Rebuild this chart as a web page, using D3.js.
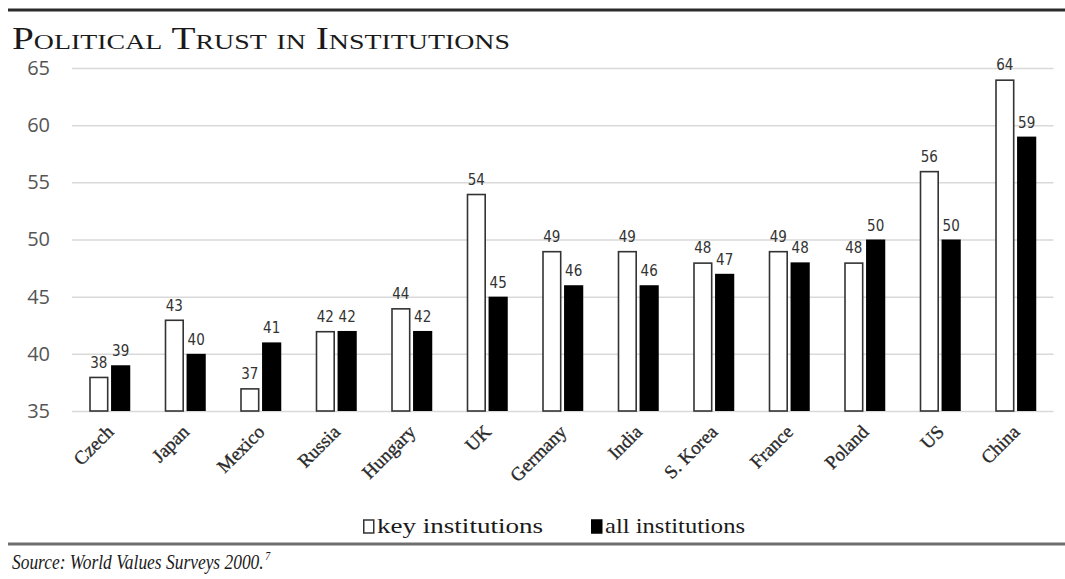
<!DOCTYPE html>
<html>
<head>
<meta charset="utf-8">
<script src="https://cdn.jsdelivr.net/npm/d3@7"></script>
<style>
  html, body { margin: 0; padding: 0; background: #fff; }
  svg { display: block; }
</style>
</head>
<body>
<svg id="chart" width="1065" height="579"></svg>
<script>
// Political trust in institutions, by country
const countries = ["Czech", "Japan", "Mexico", "Russia", "Hungary", "UK", "Germany", "India", "S. Korea", "France", "Poland", "US", "China"];
const keyInstitutions = [38, 43, 37, 42, 44, 54, 49, 49, 48, 49, 48, 56, 64];
const allInstitutions = [39, 40, 41, 42, 42, 45, 46, 46, 47, 48, 50, 50, 59];
const seriesNames = ["key institutions", "all institutions"];
const yTicks = [35, 40, 45, 50, 55, 60, 65];

const svg = d3.select("#chart");
const W = 1065;
const margin = { left: 72, right: 1053.5, top: 68, bottom: 411 };
const serif = "'Liberation Serif', 'DejaVu Serif', serif";

const rows = countries.map((c, i) => ({ country: c, values: [keyInstitutions[i], allInstitutions[i]] }));

const x = d3.scaleBand().domain(countries).range([margin.left, margin.right]).padding(0);
const x1 = d3.scaleBand().domain([0, 1]).range([-20.5, 20.5]).paddingInner(0.12);
const y = d3.scaleLinear().domain([35, 65]).range([margin.bottom, margin.top]);

// Top and bottom rules
svg.append("line").attr("x1", 8).attr("x2", W).attr("y1", 10).attr("y2", 10)
  .attr("stroke", "#2b2b2b").attr("stroke-width", 3);
svg.append("line").attr("x1", 8).attr("x2", W).attr("y1", 544).attr("y2", 544)
  .attr("stroke", "#6e6e6e").attr("stroke-width", 3);

// Title
svg.append("text")
  .attr("x", 12).attr("y", 49)
  .attr("textLength", 498).attr("lengthAdjust", "spacingAndGlyphs")
  .style("font-family", serif)
  .style("font-size", "31px")
  .style("font-variant", "small-caps")
  .attr("fill", "#1a1a1a")
  .text("Political Trust in Institutions");

// Gridlines and y axis labels
const yAxis = d3.axisLeft(y).tickValues(yTicks).tickSize(-(margin.right - margin.left)).tickPadding(22);
const gy = svg.append("g").attr("transform", `translate(${margin.left},0)`).call(yAxis);
gy.select(".domain").remove();
gy.selectAll(".tick line").attr("stroke", "#d9d9d9").attr("stroke-width", 1.5);
gy.selectAll(".tick text")
  .attr("fill", "#555")
  .style("font-family", "'Open Sans', 'Noto Sans', sans-serif")
  .style("font-size", "20px");

// Bars
const groups = svg.append("g").selectAll("g")
  .data(rows).join("g")
  .attr("transform", d => `translate(${x(d.country) + x.bandwidth() / 2},0)`);

groups.selectAll("rect")
  .data(d => d.values.map((v, k) => ({ v, k })))
  .join("rect")
  .attr("x", d => x1(d.k) + (d.k === 0 ? 0.75 : 0))
  .attr("width", d => x1.bandwidth() - (d.k === 0 ? 1.5 : 0))
  .attr("y", d => y(d.v) + (d.k === 0 ? 0.75 : 0))
  .attr("height", d => y(35) - y(d.v) - (d.k === 0 ? 0.75 : 0))
  .attr("fill", d => d.k === 0 ? "#fff" : "#000")
  .attr("stroke", d => d.k === 0 ? "#333" : "none")
  .attr("stroke-width", 1.6);

// Value labels
groups.selectAll("text.val")
  .data(d => d.values.map((v, k) => ({ v, k })))
  .join("text")
  .attr("class", "val")
  .attr("x", d => x1(d.k) + x1.bandwidth() / 2)
  .attr("y", d => y(d.v) - 9)
  .attr("text-anchor", "middle")
  .attr("fill", "#333")
  .style("font-family", "'DejaVu Sans Condensed', 'DejaVu Sans', sans-serif")
  .style("font-size", "15px")
  .text(d => d.v);

// Category labels
svg.append("g").selectAll("text")
  .data(countries).join("text")
  .attr("transform", d => `translate(${x(d) + x.bandwidth() / 2 + 5},${margin.bottom + 22}) rotate(-45)`)
  .attr("text-anchor", "end")
  .attr("fill", "#2a2a2a")
  .attr("stroke", "#2a2a2a").attr("stroke-width", 0.35)
  .style("font-family", serif)
  .style("font-size", "19px")
  .text(d => d);

// Legend
const legend = svg.append("g").attr("transform", "translate(363,533)");
const legendItems = [{ name: seriesNames[0], x: 0, w: 166 }, { name: seriesNames[1], x: 228, w: 140 }];
legendItems.forEach((it, k) => {
  legend.append("rect")
    .attr("x", it.x + 0.75).attr("y", -13).attr("width", 10).attr("height", 13)
    .attr("fill", k === 0 ? "#fff" : "#000")
    .attr("stroke", k === 0 ? "#333" : "#000").attr("stroke-width", 1.5);
  legend.append("text")
    .attr("x", it.x + 14).attr("y", 0)
    .attr("textLength", it.w).attr("lengthAdjust", "spacingAndGlyphs")
    .attr("fill", "#1a1a1a")
    .style("font-family", serif)
    .style("font-size", "22px")
    .text(it.name);
});

// Source note with footnote marker, set in a horizontally condensed italic
const src = svg.append("g").attr("transform", "translate(12,569) scale(0.83,1)")
  .append("text")
  .attr("x", 0).attr("y", 0)
  .attr("fill", "#1a1a1a")
  .style("font-family", serif)
  .style("font-style", "italic")
  .style("font-size", "21px");
src.append("tspan").text("Source: World Values Surveys 2000.");
src.append("tspan").attr("dx", 2).attr("dy", -9).style("font-size", "12px").text("7");
</script>
</body>
</html>
